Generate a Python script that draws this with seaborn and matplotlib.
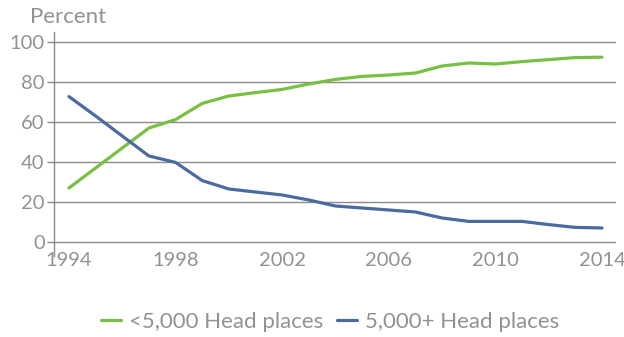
import matplotlib
matplotlib.use("Agg")
import matplotlib.pyplot as plt
import seaborn as sns
import pandas as pd

years = list(range(1994, 2015))
small = [27, 37, 47, 57, 61.2, 69.3, 73, 74.7, 76.3, 79, 81.3, 82.8, 83.5, 84.5, 88, 89.5, 89, 90.2, 91.2, 92.2, 92.4]
large = [72.7, 63, 53, 43, 39.8, 30.7, 26.5, 25, 23.5, 21, 18, 17, 16, 15, 12, 10.3, 10.3, 10.3, 8.7, 7.3, 7]
series_names = ["<5,000 Head places", "5,000+ Head places"]
xticks = [1994, 1998, 2002, 2006, 2010, 2014]
yticks = [0, 20, 40, 60, 80, 100]

df = pd.DataFrame({
    "Year": years * 2,
    "Value": small + large,
    "Series": [series_names[0]] * len(years) + [series_names[1]] * len(years),
})

sns.set_theme(style="white")
plt.rcParams['font.family'] = ['Lato', 'DejaVu Sans']
plt.rcParams['font.weight'] = 'normal'

grey = "#929292"
fs = 16
tfs = 14.5
fig = plt.figure(figsize=(6.24, 3.37), dpi=100)
ax = fig.add_axes([0.0873, 0.2404, 0.8991, 0.6632])

sns.lineplot(data=df, x="Year", y="Value", hue="Series",
             palette=["#78c043", "#4a6aa0"], linewidth=2.3, ax=ax, legend=True)

ax.set_xlim(1993.456, 2014.507)
ax.set_ylim(-7.0, 104.76)
ax.set_xticks(xticks)
ax.set_xticklabels([str(x) for x in xticks])
ax.set_yticks(yticks)
ax.set_yticklabels([str(y) for y in yticks])
ax.set_xlabel("")
ax.set_ylabel("")

for s in ["top", "right", "bottom"]:
    ax.spines[s].set_visible(False)
ax.spines["left"].set_color("#8c8c8c")
ax.spines["left"].set_linewidth(1.0)

ax.yaxis.grid(True, color="#8c8c8c", linewidth=1.0)
ax.xaxis.grid(False)
ax.set_axisbelow(True)
ax.tick_params(axis="y", which="both", left=True, length=5, width=1.0, color="#8c8c8c",
               labelsize=tfs, labelcolor=grey, pad=2)
ax.tick_params(axis="x", which="both", bottom=False, length=0,
               labelsize=tfs, labelcolor=grey, pad=-3)

fig.text(0.048, 0.95, "Percent", fontsize=fs, color=grey, ha="left", va="center")

handles, labels = ax.get_legend_handles_labels()
ax.legend(handles, labels, loc="center", bbox_to_anchor=(0.529, 0.045),
          bbox_transform=fig.transFigure, ncol=2, frameon=False,
          fontsize=fs, handlelength=0.9, handletextpad=0.35, columnspacing=0.6,
          labelcolor=grey)

fig.savefig("out.png", dpi=100)
